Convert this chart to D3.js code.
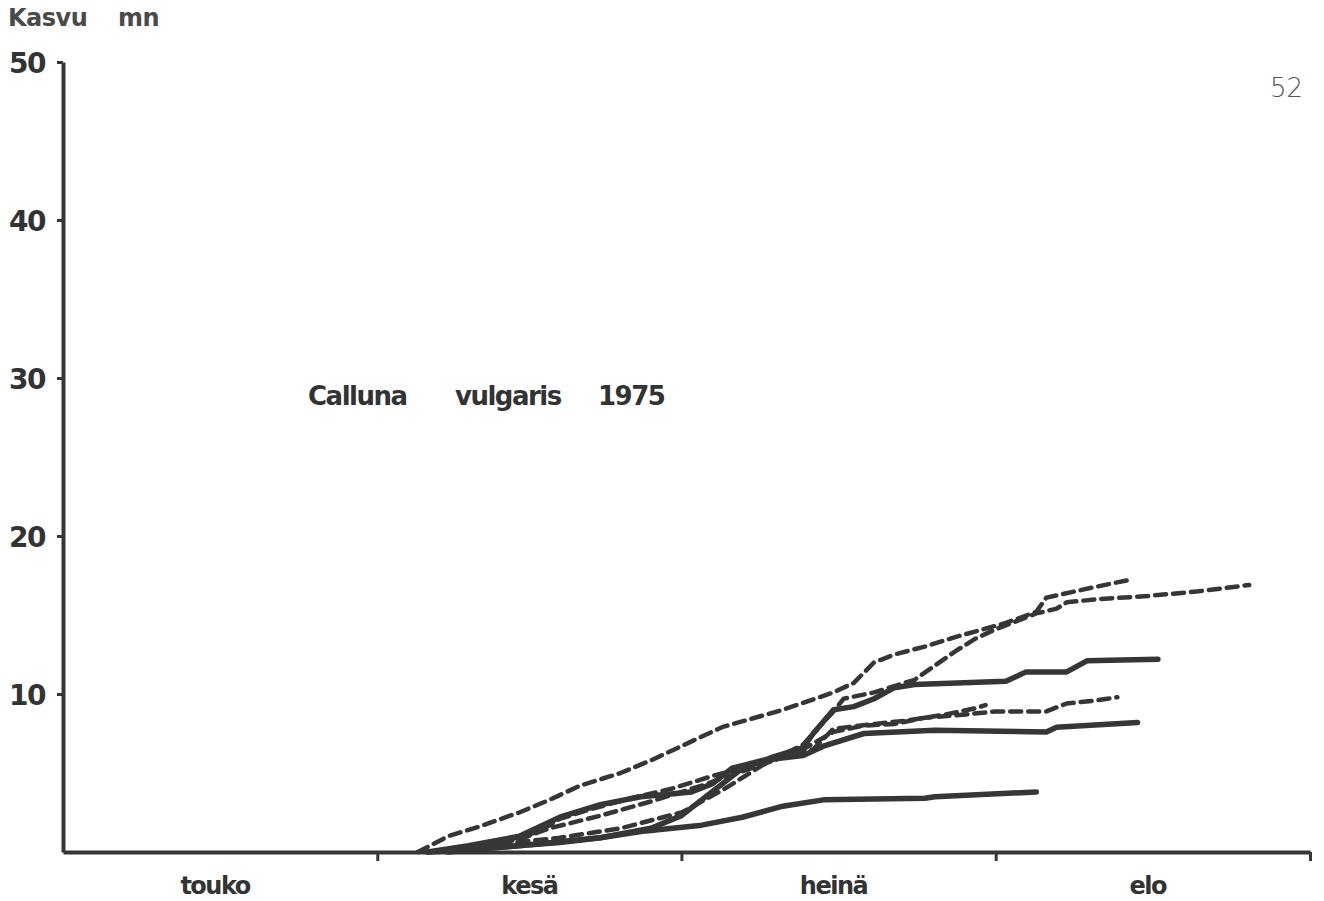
<!DOCTYPE html>
<html>
<head>
<meta charset="utf-8">
<script src="https://cdn.jsdelivr.net/npm/d3@7"></script>
<style>
  body { margin: 0; background: #fff; }
  svg { display: block; }
  .lbl { font-family: "DejaVu Sans", sans-serif; font-weight: bold; fill: #333; }
</style>
</head>
<body>
<svg id="chart" width="1324" height="901"></svg>
<script>
  // kasvu (mm) per mittauspäivä, 1975
  const months = ["touko", "kesä", "heinä", "elo"];
  const yTicks = [10, 20, 30, 40, 50];
  const titleWords = ["Calluna", "vulgaris", "1975"];

  const solidA = [["06-08",0],["06-15",0.4],["06-23",0.9],["06-28",1.5],["07-01",2.3],["07-03",3.3],["07-05",4.3],["07-07",5.3],["07-10",6.0],["07-13",6.6],["07-14",7.5],["07-16",9.0],["07-18",9.2],["07-20",9.7],["07-22",10.4],["07-24",10.6],["08-02",10.8],["08-04",11.4],["08-08",11.4],["08-10",12.1],["08-17",12.2]];
  const solidB = [["06-06",0],["06-10",0.4],["06-15",1.0],["06-19",2.2],["06-23",3.0],["06-27",3.5],["07-02",3.8],["07-04",4.3],["07-06",5.3],["07-09",5.8],["07-13",6.1],["07-15",6.7],["07-19",7.5],["07-26",7.7],["08-06",7.6],["08-07",7.9],["08-15",8.2]];
  const solidC = [["06-06",0],["06-13",0.3],["06-19",0.6],["06-23",0.9],["06-27",1.3],["07-03",1.7],["07-07",2.2],["07-11",2.9],["07-15",3.3],["07-25",3.4],["07-26",3.5],["08-05",3.8]];

  const dashed1 = [["06-05",0],["06-08",1.0],["06-11",1.6],["06-15",2.5],["06-18",3.3],["06-21",4.2],["06-25",5.0],["06-28",5.8],["07-02",7.0],["07-05",7.9],["07-11",9.0],["07-16",10.1],["07-18",10.7],["07-20",12.0],["07-22",12.5],["07-25",13.0],["07-28",13.6],["08-02",14.5],["08-05",15.2],["08-06",16.1],["08-11",16.8],["08-14",17.2]];
  const dashed2 = [["06-06",0],["06-13",0.5],["06-19",0.9],["06-25",1.5],["07-01",2.5],["07-05",3.9],["07-09",5.5],["07-13",6.8],["07-16",8.9],["07-17",9.7],["07-20",10.1],["07-24",10.9],["07-26",11.8],["07-28",12.7],["07-30",13.5],["08-01",14.1],["08-03",14.6],["08-05",15.1],["08-07",15.4],["08-08",15.8],["08-11",16.0],["08-16",16.2],["08-21",16.5],["08-26",16.9]];
  const dashed3 = [["06-07",0],["06-13",0.6],["06-17",1.3],["06-19",2.1],["06-22",2.7],["06-26",3.4],["06-30",4.0],["07-04",4.8],["07-07",5.3],["07-10",5.9],["07-13",6.5],["07-16",7.6],["07-19",8.0],["07-22",8.1],["07-25",8.5],["07-29",8.7],["08-01",8.9],["08-06",8.9],["08-08",9.4],["08-11",9.6],["08-13",9.8]];
  const dashed4 = [["06-08",0],["06-15",0.8],["06-18",1.5],["06-23",2.3],["06-28",3.2],["07-03",4.2],["07-07",5.1],["07-11",6.0],["07-14",6.5],["07-16",7.8],["07-20",8.1],["07-23",8.3],["07-27",8.7],["07-30",9.1],["07-31",9.3]];

  const solids = [solidA, solidB, solidC];
  const dashes = [dashed1, dashed2, dashed3, dashed4];

  const parse = d3.timeParse("%Y-%m-%d");
  const day = s => parse("1975-" + s);

  const ink = "#363636";
  const svg = d3.select("#chart");

  const x = d3.scaleTime()
    .domain([day("05-01"), day("09-01")])
    .range([63, 1310]);
  const y = d3.scaleLinear()
    .domain([0, 50])
    .range([852, 62]);

  const line = d3.line()
    .x(d => x(day(d[0])))
    .y(d => y(d[1]));

  // axes
  const yAxis = svg.append("g")
    .attr("transform", "translate(63,0)")
    .call(d3.axisLeft(y).tickValues(yTicks).tickSize(6).tickSizeOuter(0).tickPadding(12));
  yAxis.select(".domain").attr("stroke", ink).attr("stroke-width", 4);
  yAxis.selectAll(".tick line").attr("stroke", ink).attr("stroke-width", 3);
  yAxis.selectAll(".tick text")
    .attr("class", "lbl")
    .attr("font-size", 28)
    .attr("letter-spacing", -1.5)
    .attr("dy", "0.36em");

  const monthStarts = ["06-01", "07-01", "08-01", "09-01"].map(day);
  const xAxis = svg.append("g")
    .attr("transform", "translate(0,852)")
    .call(d3.axisBottom(x).tickValues(monthStarts).tickSize(9).tickSizeOuter(0).tickFormat(""));
  xAxis.select(".domain").attr("stroke", ink).attr("stroke-width", 4);
  xAxis.selectAll(".tick line").attr("stroke", ink).attr("stroke-width", 3);

  svg.selectAll("text.month")
    .data(months)
    .join("text")
    .attr("class", "lbl month")
    .attr("x", (m, i) => x(d3.timeDay.offset(d3.timeMonth.offset(day("05-01"), i), 15)))
    .attr("y", 894)
    .attr("text-anchor", "middle")
    .attr("font-size", 24)
    .attr("letter-spacing", -1.5)
    .text(m => m);

  // kasvukäyrät
  svg.append("g").selectAll("path")
    .data(solids)
    .join("path")
    .attr("d", line)
    .attr("fill", "none")
    .attr("stroke", ink)
    .attr("stroke-width", 5.5)
    .attr("stroke-linejoin", "round")
    .attr("stroke-linecap", "round");

  svg.append("g").selectAll("path")
    .data(dashes)
    .join("path")
    .attr("d", line)
    .attr("fill", "none")
    .attr("stroke", ink)
    .attr("stroke-width", 4.5)
    .attr("stroke-dasharray", "11,7")
    .attr("stroke-linejoin", "round")
    .attr("stroke-linecap", "round");

  // tekstit
  const head = svg.append("text")
    .attr("class", "lbl")
    .attr("y", 26)
    .attr("font-size", 24)
    .attr("letter-spacing", -0.5)
    .style("fill", "#4a4a4a");
  head.append("tspan").attr("x", 8).text("Kasvu");
  head.append("tspan").attr("x", 118).text("mn");

  svg.append("text")
    .attr("class", "lbl")
    .attr("y", 405)
    .attr("font-size", 26)
    .attr("letter-spacing", -1.5)
    .selectAll("tspan")
    .data(titleWords)
    .join("tspan")
    .attr("x", (w, i) => [308, 455, 598][i])
    .text(w => w);

  svg.append("text")
    .attr("x", 1270).attr("y", 97)
    .attr("font-family", "'DejaVu Sans', sans-serif")
    .attr("font-size", 26)
    .attr("font-weight", 300)
    .attr("fill", "#555")
    .text("52");
</script>
</body>
</html>
